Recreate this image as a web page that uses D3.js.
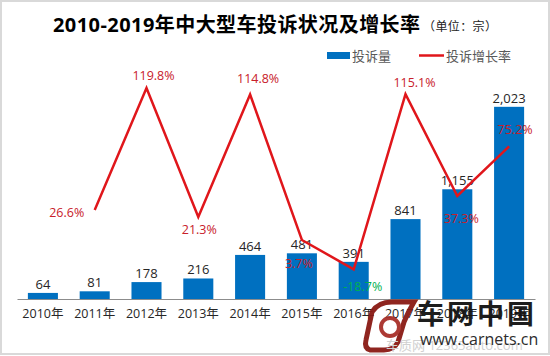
<!DOCTYPE html>
<html><head><meta charset="utf-8">
<script src="https://cdn.jsdelivr.net/npm/d3@7/dist/d3.min.js"></script>
<style>
body{margin:0;background:#fff;}
text{font-family:"Open Sans","Noto Sans CJK SC",sans-serif;}
</style></head>
<body>
<svg id="c" width="550" height="356"></svg>
<script>
const years = ["2010年","2011年","2012年","2013年","2014年","2015年","2016年","2017年","2018年","2019年"];
const complaints = [64,81,178,216,464,481,391,841,1155,2023];
const growth = [null,26.6,119.8,21.3,114.8,3.7,-18.7,115.1,37.3,75.2];
// label placement for growth labels: [dx, dy] relative to the point
const growthLabelOffset = [null,[-28,7],[7,-8],[1,17],[8,-11],[-3,28],[9,22],[9,-7],[4,27],[6,-12]];

const svg = d3.select("#c");
svg.append("rect").attr("x",1).attr("y",1).attr("width",548).attr("height",353)
  .attr("fill","#fff").attr("stroke","#d9d9d9").attr("stroke-width",2);

const x = d3.scaleBand().domain(years).range([17,535]).paddingInner(0.42).paddingOuter(0.21);
const yL = d3.scaleLinear().domain([0,2500]).range([299,61.5]);
const yR = d3.scaleLinear().domain([-40,140]).range([297.2,61.5]);

// title
svg.append("text").attr("x",53).attr("y",32).attr("font-size",20).attr("font-weight","bold").attr("fill","#000")
  .attr("textLength",367).attr("lengthAdjust","spacing")
  .text("2010-2019年中大型车投诉状况及增长率");
svg.append("text").attr("x",423).attr("y",31).attr("font-size",12).attr("fill","#222")
  .attr("textLength",74).attr("lengthAdjust","spacing").text("（单位：宗）");

// legend
svg.append("rect").attr("x",327).attr("y",52).attr("width",23).attr("height",7).attr("fill","#0070C0");
svg.append("text").attr("x",352).attr("y",61).attr("font-size",13).attr("fill","#595959").text("投诉量");
svg.append("line").attr("x1",419).attr("x2",444).attr("y1",55.5).attr("y2",55.5).attr("stroke","#E0161B").attr("stroke-width",2.5);
svg.append("text").attr("x",446).attr("y",61).attr("font-size",13).attr("fill","#595959").text("投诉增长率");

// bars
svg.selectAll("rect.bar").data(complaints).join("rect").attr("class","bar")
  .attr("x",(d,i)=>x(years[i])).attr("width",x.bandwidth())
  .attr("y",d=>yL(d)).attr("height",d=>yL(0)-yL(d)).attr("fill","#0070C0");

// x axis
const xAxis = d3.axisBottom(x).tickSize(0).tickPadding(10);
const ga = svg.append("g").attr("transform","translate(0,299)").call(xAxis);
ga.select(".domain").attr("stroke","#8c8c8c").attr("stroke-width",1.2);
ga.selectAll("text").attr("font-size",12.5).attr("fill","#262626")
  .attr("font-family",'"Open Sans","Noto Sans CJK SC",sans-serif');

// value labels
svg.selectAll("text.val").data(complaints).join("text").attr("class","val")
  .attr("x",(d,i)=>x(years[i])+x.bandwidth()/2).attr("y",d=>yL(d)-4)
  .attr("text-anchor","middle").attr("font-size",13).attr("fill","#262626")
  .text(d=>d3.format(",")(d));

// line
const pts = growth.map((g,i)=>({g,i})).filter(p=>p.g!==null);
const line = d3.line().x(p=>x(years[p.i])+x.bandwidth()/2).y(p=>yR(p.g));
svg.append("path").datum(pts).attr("d",line).attr("fill","none")
  .attr("stroke","#E0161B").attr("stroke-width",2.5).attr("stroke-linejoin","miter");

// growth labels
svg.selectAll("text.gl").data(pts).join("text").attr("class","gl")
  .attr("x",p=>x(years[p.i])+x.bandwidth()/2+growthLabelOffset[p.i][0])
  .attr("y",p=>yR(p.g)+growthLabelOffset[p.i][1])
  .attr("text-anchor","middle").attr("font-size",12.5)
  .attr("fill",p=>p.g<0?"#00B050":"#C8202A")
  .text(p=>p.g.toFixed(1)+"%");

// watermark
const wm = svg.append("g").attr("opacity",0.95);
wm.append("path").attr("d","M372,312 Q378,302 392,302 L414,302 Q408,312 404,322 L398,342 Q394,350 384,350 L370,350 Q364,348 366,340 Z")
  .attr("fill","none").attr("stroke","#8a1a14").attr("stroke-width",5);
wm.append("circle").attr("cx",390).attr("cy",327).attr("r",9).attr("fill","none").attr("stroke","#a8302a").attr("stroke-width",4);
wm.append("text").attr("x",386).attr("y",350).attr("font-size",13).attr("fill","#cfcfcf").text("车质网 12365auto.com").attr("font-family","Arial,sans-serif");
wm.append("text").attr("x",417).attr("y",324).attr("font-size",27).attr("font-weight","bold").attr("fill","#111")
  .attr("font-family",'"Noto Sans CJK SC",sans-serif').attr("letter-spacing",3).text("车网中国");
wm.append("text").attr("x",420).attr("y",345).attr("font-size",16).attr("fill","#222")
  .attr("font-family","Arial,\"Liberation Sans\",sans-serif").text("www.carnets.cn");
</script>
</body></html>
